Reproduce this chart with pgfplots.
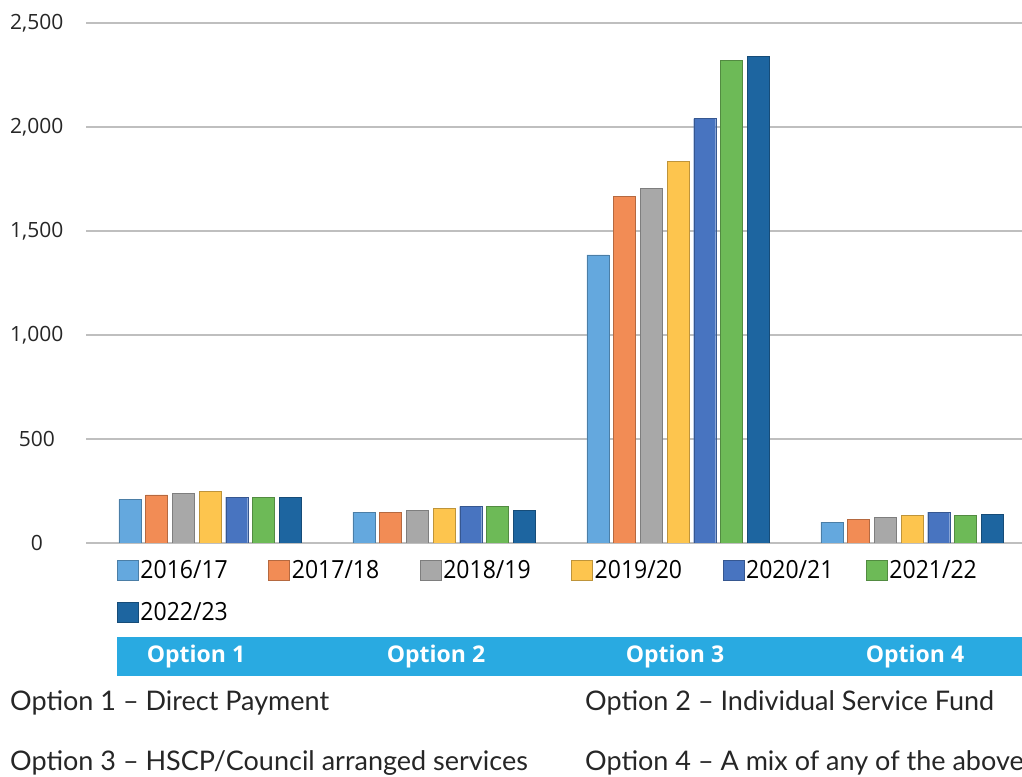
\documentclass[border=0pt]{standalone}
\usepackage{pgfplots}
\pgfplotsset{compat=1.18}
\usepackage{fontspec}
\setmainfont{Open Sans}
\newfontfamily\lato{Lato}
\newfontfamily\legfont[FakeStretch=0.92]{Open Sans}
\definecolor{gridgray}{HTML}{BFBFBF}
\definecolor{bandblue}{HTML}{29AAE1}
\definecolor{cA}{HTML}{64A8DE}
\definecolor{cB}{HTML}{F28C55}
\definecolor{cC}{HTML}{A8A8A8}
\definecolor{cD}{HTML}{FDC54E}
\definecolor{cE}{HTML}{4874C0}
\definecolor{cF}{HTML}{6DBA57}
\definecolor{cG}{HTML}{1D65A0}
\pgfplotstableread{
x a b c d e f g
0 210 231 239 248 220 220 220
1 148 148 157 167 176 176 157
2 1385 1665 1705 1835 2040 2320 2340
3 100 115 123 134 148 134 139
}\datatable
\begin{document}
\begin{tikzpicture}[x=1pt,y=1pt]
\clip (0,0) rectangle (1022,776);
\begin{axis}[
  at={(86pt,233pt)}, anchor=south west, scale only axis,
  width=936pt, height=520pt,
  xmin=-0.53, xmax=3.47, ymin=0, ymax=2500,
  ytick={0,500,...,2500}, xtick=\empty,
  ymajorgrids, grid style={draw=gridgray, line width=1.2pt},
  axis line style={draw=none}, major tick style={draw=none},
  /pgf/number format/assume math mode=true,
  /pgf/number format/1000 sep={,},
  yticklabel style={anchor=east, text width=60pt, align=center, inner sep=0pt, xshift=-19pt, font=\fontsize{21}{24}\selectfont, text=black!85},
  ybar=4.7pt, bar width=22pt,
  legend style={at={(0.033,-0.03)}, anchor=north west, draw=none, fill=none,
    font=\legfont\fontsize{25}{29}\selectfont, /tikz/row sep=18pt, inner sep=0pt,
    /tikz/every even column/.append style={column sep=2pt}},
  legend columns=6, legend cell align=left,
  legend image code/.code={\path[#1] (0pt,-10pt) rectangle (21pt,10pt);},
]
\addplot[draw=cA!75!black, fill=cA] table[x=x,y=a]{\datatable};
\addplot[draw=cB!75!black, fill=cB] table[x=x,y=b]{\datatable};
\addplot[draw=cC!75!black, fill=cC] table[x=x,y=c]{\datatable};
\addplot[draw=cD!75!black, fill=cD] table[x=x,y=d]{\datatable};
\addplot[draw=cE!75!black, fill=cE] table[x=x,y=e]{\datatable};
\addplot[draw=cF!75!black, fill=cF] table[x=x,y=f]{\datatable};
\addplot[draw=cG!75!black, fill=cG] table[x=x,y=g]{\datatable};
\addlegendentry{\makebox[124pt][l]{2016/17}}
\addlegendentry{\makebox[124pt][l]{2017/18}}
\addlegendentry{\makebox[124pt][l]{2018/19}}
\addlegendentry{\makebox[124pt][l]{2019/20}}
\addlegendentry{\makebox[116pt][l]{2020/21}}
\addlegendentry{\makebox[124pt][l]{2021/22}}
\addlegendentry{\makebox[124pt][l]{2022/23}}
\end{axis}
\fill[bandblue] (117,100) rectangle (1022,139);
\foreach \xx/\lab in {196/Option 1, 436/Option 2, 675/Option 3, 915/Option 4}
  \node[text=white, font=\bfseries\fontsize{23}{26}\selectfont, inner sep=0pt] at (\xx,119.5) {\lab};
\begin{scope}[every node/.style={anchor=base west, inner sep=0pt, font=\lato\fontsize{27}{31}\selectfont, text=black!85}]
\node at (10,65) {Option 1 – Direct Payment};
\node at (585,65) {Option 2 – Individual Service Fund};
\node at (10,6) {Option 3 – HSCP/Council arranged services};
\node at (585,6) {Option 4 – A mix of any of the above};
\end{scope}
\end{tikzpicture}
\end{document}
